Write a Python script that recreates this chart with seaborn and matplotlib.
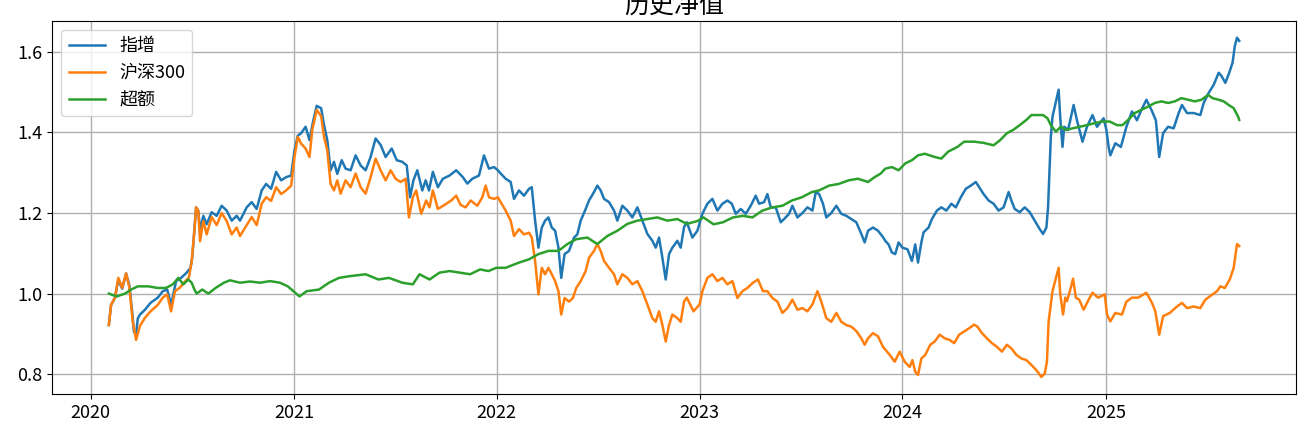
import matplotlib
matplotlib.use('Agg')
import matplotlib.pyplot as plt
import matplotlib.dates as mdates
from matplotlib.ticker import MultipleLocator, FormatStrFormatter
import seaborn as sns
import pandas as pd

# ---------------- data ----------------
labels = ['指增', '沪深300', '超额']
colors = ['#1f77b4', '#ff7f0e', '#2ca02c']
title = '历史净值'

zz_dates = [
    '2020-02-03', '2020-02-07', '2020-02-14', '2020-02-20', '2020-02-27', '2020-03-05', '2020-03-11', '2020-03-17',
    '2020-03-19', '2020-03-23', '2020-03-26', '2020-03-30', '2020-04-08', '2020-04-18', '2020-05-01', '2020-05-10',
    '2020-05-18', '2020-05-25', '2020-06-03', '2020-06-12', '2020-06-22', '2020-06-29', '2020-07-02', '2020-07-06',
    '2020-07-09', '2020-07-13', '2020-07-16', '2020-07-22', '2020-07-28', '2020-08-06', '2020-08-15', '2020-08-24',
    '2020-09-02', '2020-09-11', '2020-09-20', '2020-09-26', '2020-10-08', '2020-10-17', '2020-10-26', '2020-11-04',
    '2020-11-12', '2020-11-21', '2020-11-30', '2020-12-09', '2020-12-18', '2020-12-27',
    '2021-01-02', '2021-01-08', '2021-01-14', '2021-01-22', '2021-01-29', '2021-02-05', '2021-02-11', '2021-02-19',
    '2021-02-24', '2021-03-02', '2021-03-08', '2021-03-14', '2021-03-20', '2021-03-28', '2021-04-04', '2021-04-13',
    '2021-04-22', '2021-05-01', '2021-05-10', '2021-05-19', '2021-05-28', '2021-06-06', '2021-06-15', '2021-06-26',
    '2021-07-05', '2021-07-15', '2021-07-23', '2021-07-29', '2021-08-04', '2021-08-11', '2021-08-20', '2021-08-26',
    '2021-09-01', '2021-09-08', '2021-09-17', '2021-09-26', '2021-10-08', '2021-10-20', '2021-11-01', '2021-11-09',
    '2021-11-18', '2021-11-30', '2021-12-09', '2021-12-18', '2021-12-27',
    '2022-01-03', '2022-01-08', '2022-01-17', '2022-01-26', '2022-02-01', '2022-02-10', '2022-02-19', '2022-02-28',
    '2022-03-05', '2022-03-11', '2022-03-17', '2022-03-23', '2022-03-29', '2022-04-04', '2022-04-10', '2022-04-16',
    '2022-04-22', '2022-04-27', '2022-05-03', '2022-05-11', '2022-05-20', '2022-05-26', '2022-06-01', '2022-06-10',
    '2022-06-16', '2022-06-25', '2022-07-01', '2022-07-07', '2022-07-13', '2022-07-22', '2022-07-31', '2022-08-06',
    '2022-08-15', '2022-08-24', '2022-09-02', '2022-09-11', '2022-09-20', '2022-09-29', '2022-10-08', '2022-10-14',
    '2022-10-20', '2022-10-26', '2022-11-01', '2022-11-07', '2022-11-13', '2022-11-22', '2022-11-28', '2022-12-04',
    '2022-12-09', '2022-12-19', '2022-12-28',
    '2023-01-06', '2023-01-15', '2023-01-24', '2023-02-02', '2023-02-11', '2023-02-20', '2023-02-28', '2023-03-07',
    '2023-03-16', '2023-03-25', '2023-04-03', '2023-04-12', '2023-04-18', '2023-04-27', '2023-05-03', '2023-05-09',
    '2023-05-18', '2023-05-27', '2023-06-02', '2023-06-11', '2023-06-17', '2023-06-26', '2023-07-05', '2023-07-14',
    '2023-07-23', '2023-07-29', '2023-08-04', '2023-08-11', '2023-08-17', '2023-08-26', '2023-09-04', '2023-09-13',
    '2023-09-22', '2023-10-01', '2023-10-10', '2023-10-19', '2023-10-25', '2023-10-31', '2023-11-09', '2023-11-18',
    '2023-11-27', '2023-12-01', '2023-12-07', '2023-12-13', '2023-12-19', '2023-12-25',
    '2024-01-01', '2024-01-10', '2024-01-18', '2024-01-24', '2024-01-29', '2024-02-04', '2024-02-08', '2024-02-17',
    '2024-02-23', '2024-03-03', '2024-03-11', '2024-03-20', '2024-03-29', '2024-04-06', '2024-04-15', '2024-04-24',
    '2024-05-03', '2024-05-12', '2024-05-18', '2024-05-26', '2024-06-04', '2024-06-13', '2024-06-22', '2024-07-01',
    '2024-07-10', '2024-07-15', '2024-07-21', '2024-07-30', '2024-08-08', '2024-08-17', '2024-08-26', '2024-09-04',
    '2024-09-10', '2024-09-16', '2024-09-19', '2024-09-24', '2024-09-27', '2024-10-08', '2024-10-11', '2024-10-15',
    '2024-10-18', '2024-10-25', '2024-11-04', '2024-11-10', '2024-11-20', '2024-11-28', '2024-12-08', '2024-12-16',
    '2024-12-28',
    '2025-01-02', '2025-01-06', '2025-01-09', '2025-01-18', '2025-01-28', '2025-02-07', '2025-02-17', '2025-02-26',
    '2025-03-06', '2025-03-15', '2025-03-24', '2025-04-01', '2025-04-07', '2025-04-14', '2025-04-23', '2025-05-03',
    '2025-05-12', '2025-05-18', '2025-05-27', '2025-06-08', '2025-06-20', '2025-06-26', '2025-07-05', '2025-07-14',
    '2025-07-23', '2025-07-28', '2025-08-04', '2025-08-11', '2025-08-17', '2025-08-21', '2025-08-25', '2025-08-29',
]
zz_values = [
    0.922, 0.972, 0.990, 1.035, 1.012, 1.050, 1.020, 0.940,
    0.905, 0.900, 0.938, 0.948, 0.960, 0.977, 0.990, 1.006,
    1.010, 0.972, 1.031, 1.039, 1.052, 1.064, 1.090, 1.160,
    1.214, 1.205, 1.156, 1.193, 1.172, 1.202, 1.193, 1.218,
    1.206, 1.181, 1.193, 1.181, 1.214, 1.227, 1.210, 1.256,
    1.272, 1.260, 1.302, 1.281, 1.289, 1.293,
    1.355, 1.392, 1.398, 1.414, 1.381, 1.430, 1.466, 1.460,
    1.420, 1.381, 1.306, 1.327, 1.297, 1.331, 1.310, 1.306,
    1.343, 1.318, 1.306, 1.339, 1.385, 1.369, 1.339, 1.360,
    1.331, 1.327, 1.318, 1.239, 1.281, 1.306, 1.256, 1.281,
    1.256, 1.302, 1.264, 1.285, 1.293, 1.306, 1.289, 1.273,
    1.285, 1.293, 1.343, 1.310, 1.314,
    1.306, 1.298, 1.285, 1.277, 1.235, 1.256, 1.243, 1.260,
    1.264, 1.181, 1.114, 1.164, 1.181, 1.189, 1.164, 1.156,
    1.114, 1.039, 1.098, 1.106, 1.139, 1.147, 1.181, 1.210,
    1.231, 1.252, 1.268, 1.256, 1.235, 1.227, 1.206, 1.181,
    1.218, 1.206, 1.189, 1.214, 1.181, 1.148, 1.131, 1.114,
    1.139, 1.089, 1.035, 1.098, 1.114, 1.131, 1.114, 1.165,
    1.177, 1.139, 1.156,
    1.198, 1.223, 1.235, 1.206, 1.223, 1.231, 1.223, 1.198,
    1.210, 1.198, 1.218, 1.243, 1.223, 1.227, 1.247, 1.214,
    1.214, 1.177, 1.185, 1.198, 1.218, 1.189, 1.200, 1.214,
    1.206, 1.252, 1.247, 1.223, 1.189, 1.200, 1.218, 1.198,
    1.193, 1.185, 1.177, 1.148, 1.127, 1.156, 1.164, 1.156,
    1.140, 1.131, 1.122, 1.102, 1.098, 1.127,
    1.114, 1.110, 1.081, 1.122, 1.077, 1.127, 1.152, 1.164,
    1.185, 1.206, 1.214, 1.206, 1.223, 1.214, 1.239, 1.260,
    1.268, 1.277, 1.264, 1.247, 1.231, 1.223, 1.206, 1.214,
    1.252, 1.231, 1.210, 1.202, 1.214, 1.202, 1.181, 1.160,
    1.148, 1.164, 1.214, 1.389, 1.439, 1.506, 1.435, 1.364,
    1.414, 1.406, 1.468, 1.430, 1.377, 1.414, 1.443, 1.414,
    1.435,
    1.406, 1.364, 1.343, 1.373, 1.364, 1.414, 1.452, 1.430,
    1.456, 1.481, 1.456, 1.430, 1.339, 1.398, 1.414, 1.410,
    1.448, 1.468, 1.448, 1.448, 1.443, 1.473, 1.498, 1.518,
    1.548, 1.540, 1.523, 1.548, 1.573, 1.614, 1.635, 1.627,
]

hs_dates = [
    '2020-02-03', '2020-02-07', '2020-02-14', '2020-02-20', '2020-02-27', '2020-03-05', '2020-03-11', '2020-03-17',
    '2020-03-23', '2020-03-30', '2020-04-08', '2020-04-18', '2020-05-01', '2020-05-10', '2020-05-18', '2020-05-25',
    '2020-06-01', '2020-06-10', '2020-06-19', '2020-06-26', '2020-07-01', '2020-07-06', '2020-07-09', '2020-07-13',
    '2020-07-16', '2020-07-22', '2020-07-28', '2020-08-06', '2020-08-15', '2020-08-24', '2020-09-02', '2020-09-11',
    '2020-09-20', '2020-09-26', '2020-10-08', '2020-10-17', '2020-10-26', '2020-11-04', '2020-11-12', '2020-11-21',
    '2020-11-30', '2020-12-09', '2020-12-18', '2020-12-27',
    '2021-01-02', '2021-01-08', '2021-01-14', '2021-01-22', '2021-01-29', '2021-02-03', '2021-02-11', '2021-02-19',
    '2021-02-24', '2021-03-02', '2021-03-08', '2021-03-14', '2021-03-20', '2021-03-26', '2021-04-04', '2021-04-13',
    '2021-04-22', '2021-05-01', '2021-05-10', '2021-05-19', '2021-05-28', '2021-06-06', '2021-06-15', '2021-06-24',
    '2021-07-03', '2021-07-12', '2021-07-21', '2021-07-27', '2021-08-03', '2021-08-09', '2021-08-18', '2021-08-27',
    '2021-09-02', '2021-09-08', '2021-09-17', '2021-09-29', '2021-10-11', '2021-10-20', '2021-10-28', '2021-11-06',
    '2021-11-15', '2021-11-27', '2021-12-06', '2021-12-12', '2021-12-18', '2021-12-27',
    '2022-01-03', '2022-01-08', '2022-01-17', '2022-01-26', '2022-02-01', '2022-02-10', '2022-02-19', '2022-02-28',
    '2022-03-05', '2022-03-11', '2022-03-17', '2022-03-23', '2022-03-29', '2022-04-04', '2022-04-10', '2022-04-16',
    '2022-04-22', '2022-04-27', '2022-05-03', '2022-05-11', '2022-05-18', '2022-05-24', '2022-06-01', '2022-06-10',
    '2022-06-16', '2022-06-25', '2022-07-01', '2022-07-07', '2022-07-13', '2022-07-22', '2022-07-31', '2022-08-06',
    '2022-08-15', '2022-08-24', '2022-09-02', '2022-09-11', '2022-09-20', '2022-09-29', '2022-10-08', '2022-10-14',
    '2022-10-20', '2022-10-26', '2022-11-01', '2022-11-07', '2022-11-13', '2022-11-22', '2022-11-28', '2022-12-04',
    '2022-12-09', '2022-12-21',
    '2023-01-01', '2023-01-06', '2023-01-15', '2023-01-24', '2023-02-02', '2023-02-11', '2023-02-20', '2023-03-01',
    '2023-03-10', '2023-03-19', '2023-03-28', '2023-04-07', '2023-04-16', '2023-04-25', '2023-05-03', '2023-05-12',
    '2023-05-21', '2023-05-30', '2023-06-08', '2023-06-17', '2023-06-26', '2023-07-05', '2023-07-14', '2023-07-23',
    '2023-08-01', '2023-08-08', '2023-08-17', '2023-08-26', '2023-09-04', '2023-09-13', '2023-09-22', '2023-10-01',
    '2023-10-10', '2023-10-19', '2023-10-25', '2023-10-31', '2023-11-09', '2023-11-18', '2023-11-27', '2023-12-09',
    '2023-12-18', '2023-12-27',
    '2024-01-05', '2024-01-14', '2024-01-19', '2024-01-24', '2024-01-29', '2024-02-04', '2024-02-11', '2024-02-20',
    '2024-02-28', '2024-03-08', '2024-03-17', '2024-03-26', '2024-04-03', '2024-04-12', '2024-04-21', '2024-04-30',
    '2024-05-09', '2024-05-15', '2024-05-23', '2024-06-01', '2024-06-10', '2024-06-19', '2024-06-28', '2024-07-07',
    '2024-07-15', '2024-07-24', '2024-08-02', '2024-08-11', '2024-08-20', '2024-08-29', '2024-09-07', '2024-09-13',
    '2024-09-17', '2024-09-20', '2024-09-27', '2024-10-08', '2024-10-11', '2024-10-16', '2024-10-20', '2024-10-23',
    '2024-10-31', '2024-11-03', '2024-11-08', '2024-11-14', '2024-11-22', '2024-12-01', '2024-12-08', '2024-12-18',
    '2024-12-30',
    '2025-01-03', '2025-01-09', '2025-01-18', '2025-01-30', '2025-02-07', '2025-02-17', '2025-02-28', '2025-03-15',
    '2025-03-25', '2025-03-31', '2025-04-07', '2025-04-14', '2025-04-26', '2025-05-09', '2025-05-18', '2025-05-27',
    '2025-06-08', '2025-06-20', '2025-06-29', '2025-07-12', '2025-07-20', '2025-07-26', '2025-08-03', '2025-08-12',
    '2025-08-19', '2025-08-25', '2025-08-29',
]
hs_values = [
    0.922, 0.972, 0.990, 1.039, 1.014, 1.050, 1.014, 0.930,
    0.885, 0.920, 0.940, 0.956, 0.972, 0.990, 0.998, 0.956,
    1.006, 1.015, 1.030, 1.040, 1.080, 1.156, 1.214, 1.205,
    1.130, 1.180, 1.147, 1.190, 1.170, 1.200, 1.180, 1.147,
    1.164, 1.143, 1.170, 1.190, 1.170, 1.223, 1.239, 1.230,
    1.264, 1.247, 1.256, 1.268,
    1.339, 1.389, 1.372, 1.360, 1.339, 1.406, 1.456, 1.440,
    1.390, 1.356, 1.272, 1.256, 1.281, 1.248, 1.281, 1.264,
    1.298, 1.264, 1.248, 1.289, 1.335, 1.306, 1.281, 1.306,
    1.285, 1.277, 1.285, 1.189, 1.239, 1.256, 1.198, 1.231,
    1.214, 1.256, 1.210, 1.220, 1.231, 1.243, 1.220, 1.214,
    1.231, 1.218, 1.239, 1.268, 1.239, 1.235,
    1.239, 1.227, 1.206, 1.181, 1.143, 1.160, 1.147, 1.151,
    1.139, 1.081, 0.998, 1.064, 1.048, 1.064, 1.048, 1.031,
    1.006, 0.948, 0.989, 0.980, 0.989, 1.014, 1.031, 1.056,
    1.089, 1.106, 1.123, 1.106, 1.081, 1.064, 1.048, 1.023,
    1.048, 1.039, 1.023, 1.031, 1.006, 0.973, 0.939, 0.930,
    0.956, 0.922, 0.881, 0.922, 0.948, 0.939, 0.930, 0.980,
    0.990, 0.956,
    0.973, 1.006, 1.039, 1.048, 1.031, 1.039, 1.023, 1.031,
    0.989, 1.006, 1.014, 1.027, 1.035, 1.006, 1.006, 0.989,
    0.980, 0.952, 0.964, 0.985, 0.960, 0.964, 0.956, 0.973,
    1.006, 0.980, 0.939, 0.930, 0.952, 0.930, 0.922, 0.918,
    0.907, 0.889, 0.873, 0.889, 0.902, 0.894, 0.868, 0.848,
    0.831, 0.856,
    0.831, 0.818, 0.835, 0.806, 0.798, 0.839, 0.848, 0.873,
    0.881, 0.898, 0.889, 0.885, 0.877, 0.898, 0.906, 0.914,
    0.923, 0.918, 0.902, 0.889, 0.877, 0.868, 0.856, 0.873,
    0.864, 0.848, 0.839, 0.835, 0.823, 0.810, 0.793, 0.802,
    0.831, 0.931, 1.006, 1.064, 0.998, 0.948, 0.990, 0.981,
    1.020, 1.037, 0.990, 0.985, 0.960, 0.985, 1.002, 0.990,
    0.998,
    0.948, 0.931, 0.952, 0.948, 0.980, 0.990, 0.990, 1.002,
    0.977, 0.956, 0.898, 0.944, 0.952, 0.968, 0.977, 0.964,
    0.968, 0.964, 0.985, 0.998, 1.006, 1.018, 1.014, 1.035,
    1.064, 1.123, 1.118,
]

ce_dates = [
    '2020-02-03', '2020-02-17', '2020-03-03', '2020-03-14', '2020-03-26', '2020-04-14', '2020-05-01', '2020-05-16',
    '2020-05-28', '2020-06-07', '2020-06-16', '2020-06-25', '2020-07-01', '2020-07-06', '2020-07-10', '2020-07-20',
    '2020-07-31', '2020-08-13', '2020-08-28', '2020-09-08', '2020-09-26', '2020-10-14', '2020-11-01', '2020-11-19',
    '2020-12-07', '2020-12-21', '2020-12-31',
    '2021-01-11', '2021-01-24', '2021-02-15', '2021-03-05', '2021-03-23', '2021-04-10', '2021-05-10', '2021-06-02',
    '2021-06-21', '2021-07-15', '2021-08-03', '2021-08-15', '2021-09-02', '2021-09-20', '2021-10-08', '2021-10-26',
    '2021-11-14', '2021-12-02', '2021-12-17', '2021-12-31',
    '2022-01-17', '2022-02-10', '2022-02-28', '2022-03-17', '2022-04-04', '2022-04-22', '2022-05-08', '2022-05-24',
    '2022-06-13', '2022-07-01', '2022-07-19', '2022-08-06', '2022-08-24', '2022-09-11', '2022-09-29', '2022-10-17',
    '2022-11-04', '2022-11-22', '2022-12-09', '2022-12-28',
    '2023-01-08', '2023-01-26', '2023-02-12', '2023-03-02', '2023-03-20', '2023-04-06', '2023-04-24', '2023-05-12',
    '2023-05-30', '2023-06-16', '2023-07-04', '2023-07-22', '2023-08-04', '2023-08-22', '2023-09-08', '2023-09-26',
    '2023-10-13', '2023-10-31', '2023-11-12', '2023-11-23', '2023-12-01', '2023-12-13', '2023-12-25',
    '2024-01-06', '2024-01-18', '2024-01-29', '2024-02-10', '2024-02-28', '2024-03-11', '2024-03-23', '2024-04-09',
    '2024-04-21', '2024-05-09', '2024-05-26', '2024-06-13', '2024-06-25', '2024-07-07', '2024-07-18', '2024-07-30',
    '2024-08-11', '2024-08-20', '2024-08-29', '2024-09-10', '2024-09-18', '2024-09-24', '2024-10-03', '2024-10-12',
    '2024-10-21', '2024-11-02', '2024-11-15', '2024-11-28', '2024-12-12', '2024-12-25',
    '2025-01-08', '2025-01-21', '2025-01-31', '2025-02-10', '2025-02-22', '2025-03-06', '2025-03-18', '2025-03-30',
    '2025-04-11', '2025-04-23', '2025-05-05', '2025-05-17', '2025-05-29', '2025-06-10', '2025-06-22', '2025-07-04',
    '2025-07-12', '2025-07-23', '2025-08-01', '2025-08-10', '2025-08-19', '2025-08-27', '2025-08-29',
]
ce_values = [
    1.000, 0.993, 1.000, 1.010, 1.018, 1.018, 1.014, 1.014,
    1.023, 1.039, 1.023, 1.035, 1.027, 1.010, 1.000, 1.010,
    1.000, 1.014, 1.027, 1.033, 1.027, 1.030, 1.027, 1.031,
    1.027, 1.018, 1.006,
    0.993, 1.006, 1.010, 1.027, 1.039, 1.043, 1.048, 1.035,
    1.039, 1.027, 1.023, 1.048, 1.035, 1.052, 1.056, 1.052,
    1.048, 1.060, 1.056, 1.064,
    1.064, 1.077, 1.085, 1.098, 1.106, 1.106, 1.123, 1.135,
    1.139, 1.123, 1.143, 1.156, 1.173, 1.181, 1.185, 1.189,
    1.181, 1.185, 1.173, 1.180,
    1.189, 1.172, 1.177, 1.189, 1.193, 1.189, 1.206, 1.214,
    1.218, 1.231, 1.239, 1.252, 1.256, 1.268, 1.272, 1.281,
    1.285, 1.277, 1.289, 1.298, 1.310, 1.314, 1.306,
    1.323, 1.331, 1.343, 1.347, 1.339, 1.335, 1.352, 1.364,
    1.377, 1.377, 1.374, 1.368, 1.381, 1.398, 1.406, 1.418,
    1.431, 1.443, 1.443, 1.443, 1.435, 1.418, 1.402, 1.414,
    1.406, 1.410, 1.414, 1.418, 1.423, 1.427,
    1.427, 1.418, 1.418, 1.431, 1.448, 1.456, 1.464, 1.473,
    1.477, 1.473, 1.477, 1.485, 1.481, 1.477, 1.481, 1.493,
    1.485, 1.481, 1.477, 1.468, 1.460, 1.439, 1.431,
]

series = [(zz_dates, zz_values), (hs_dates, hs_values), (ce_dates, ce_values)]

# ---------------- figure ----------------
plt.rcParams['font.family'] = ['Noto Sans CJK SC', 'DejaVu Sans']
plt.rcParams['axes.unicode_minus'] = False

fig, ax = plt.subplots(figsize=(13.02, 4.29), dpi=100)
fig.subplots_adjust(left=0.0402, right=0.9952, bottom=0.0816, top=0.9517)

for (d, v), lab, col in zip(series, labels, colors):
    assert len(d) == len(v), lab
    df = pd.DataFrame({'date': pd.to_datetime(d), 'value': v})
    sns.lineplot(data=df, x='date', y='value', ax=ax, color=col, label=lab,
                 linewidth=1.8, estimator=None, sort=True)

ax.grid(True, color='#b0b0b0', linewidth=1.0)
ax.xaxis.set_major_locator(mdates.YearLocator())
ax.xaxis.set_major_formatter(mdates.DateFormatter('%Y'))
ax.yaxis.set_major_locator(MultipleLocator(0.2))
ax.yaxis.set_major_formatter(FormatStrFormatter('%.1f'))
ax.tick_params(labelsize=13)
ax.set_xlabel('')
ax.set_ylabel('')
ax.set_title(title, fontsize=18)
ax.legend(loc='upper left', fontsize=13)

fig.savefig('out.png', dpi=100)
